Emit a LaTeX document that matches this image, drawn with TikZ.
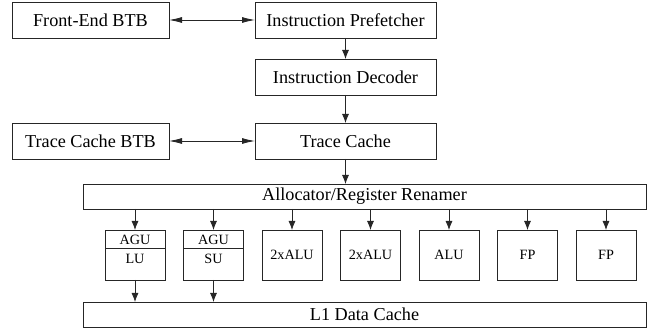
\documentclass[tikz,border=0pt]{standalone}
\usepackage{fontspec}
\setmainfont{Liberation Serif}
\usetikzlibrary{arrows.meta}
\tikzset{
  box/.style={draw=black!85, line width=0.8pt, rectangle, inner sep=0pt, outer sep=0pt,
    font=\fontsize{18.2}{20}\selectfont, text=black},
  unitbox/.style={box, minimum width=60pt, minimum height=50pt},
  small/.style={inner sep=0pt, font=\fontsize{14.2}{16}\selectfont, text=black},
  vline/.style={draw=black!85, line width=0.8pt, -{Latex[length=9pt,width=7pt]}},
  hline/.style={draw=black!85, line width=0.8pt, {Latex[length=13pt,width=6pt]}-{Latex[length=13pt,width=6pt]}},
}
\begin{document}
\begin{tikzpicture}[x=1pt,y=-1pt]
\useasboundingbox (0,0) rectangle (654,328);
% front end
\node[box, minimum width=157pt, minimum height=36pt] (febtb) at (90.5,20) {Front-End BTB};
\node[box, minimum width=181pt, minimum height=36pt] (pref) at (345.5,20) {Instruction Prefetcher};
\node[box, minimum width=181pt, minimum height=36pt] (dec) at (345.5,77) {Instruction Decoder};
\node[box, minimum width=157pt, minimum height=36pt] (tcbtb) at (90.5,141) {Trace Cache BTB};
\node[box, minimum width=181pt, minimum height=36pt] (tc) at (345.5,141) {Trace Cache};
\node[box, minimum width=563pt, minimum height=25pt] (alloc) at (364.5,196.5) {Allocator/Register Renamer};
\node[box, minimum width=563pt, minimum height=25pt] (l1) at (364.5,314.5) {L1 Data Cache};
% units
\node[unitbox] (lu) at (135,255) {};
\node[unitbox] (su) at (213.5,255) {};
\node[unitbox, font=\fontsize{14.2}{16}\selectfont] (alu1) at (292,255) {2xALU};
\node[unitbox, font=\fontsize{14.2}{16}\selectfont] (alu2) at (370.5,255) {2xALU};
\node[unitbox, font=\fontsize{14.2}{16}\selectfont] (alu3) at (449,255) {ALU};
\node[unitbox, font=\fontsize{14.2}{16}\selectfont] (fp1) at (527.5,255) {FP};
\node[unitbox, font=\fontsize{14.2}{16}\selectfont] (fp2) at (606,255) {FP};
% AGU sections
\coordinate (ludiv) at (135,248);
\coordinate (sudiv) at (213.5,248);
\draw[draw=black!85, line width=0.8pt] (lu.west |- ludiv) -- (lu.east |- ludiv);
\draw[draw=black!85, line width=0.8pt] (su.west |- sudiv) -- (su.east |- sudiv);
\node[small] (luagu) at (135,240) {AGU};
\node[small] (lulab) at (135,259) {LU};
\node[small] (suagu) at (213.5,240) {AGU};
\node[small] (sulab) at (213.5,259) {SU};
% connectors
\draw[hline] (febtb.east) -- (pref.west);
\draw[hline] (tcbtb.east) -- (tc.west);
\draw[vline] (pref.south) -- (dec.north);
\draw[vline] (dec.south) -- (tc.north);
\draw[vline] (tc.south) -- (tc.south |- alloc.north);
\foreach \u in {lu,su,alu1,alu2,alu3,fp1,fp2} {
  \draw[vline] (\u.north |- alloc.south) -- (\u.north);
}
\draw[vline] (lu.south) -- (lu.south |- l1.north);
\draw[vline] (su.south) -- (su.south |- l1.north);
\end{tikzpicture}
\end{document}
